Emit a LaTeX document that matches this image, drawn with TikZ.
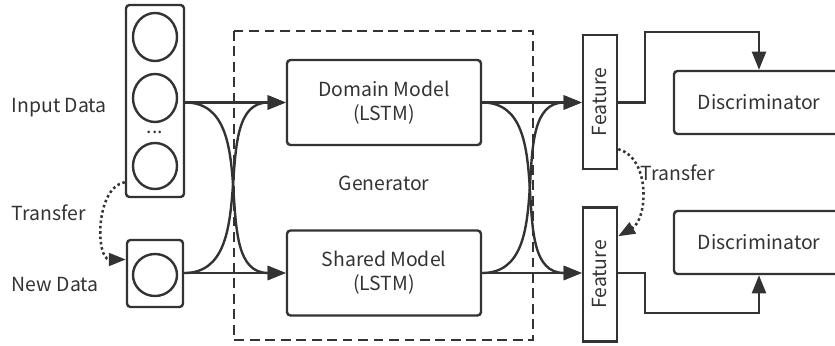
\documentclass[tikz,border=0pt]{standalone}
\usepackage{fontspec}
\usepackage{graphicx}
\setmainfont{Noto Sans CJK SC}
\usetikzlibrary{arrows.meta,shapes.geometric}
\definecolor{ink}{HTML}{333333}

\begin{document}
\begin{tikzpicture}[x=0.025cm,y=-0.025cm,
	every node/.style={text=ink,font=\fontsize{13.8}{17}\selectfont},
	line/.style={draw=ink,line width=1.7pt},
	arr/.style={line,-{Triangle[length=13pt,width=10pt]}},
	dotarr/.style={draw=ink,line width=1.8pt,dotted,-{Triangle[length=12pt,width=9pt]}},
	box/.style={line,rounded corners=2.5pt},
	unit/.style={line,ellipse,inner sep=0pt,minimum width=1.1cm,minimum height=1.2cm},
	model/.style={box,align=center,minimum width=4.85cm,minimum height=2.125cm},
	feat/.style={line,inner sep=0pt,minimum width=0.85cm,minimum height=3.35cm},
	disc/.style={box,minimum width=4.25cm,minimum height=1.575cm},
	gen/.style={draw=ink,line width=1.7pt,dash pattern=on 7pt off 4pt}]

	\useasboundingbox (0,0) rectangle (835,346);
	\clip (0,0) rectangle (835,346);

	% input data
	\node[box,minimum width=1.45cm,minimum height=4.8cm] (inbox) at (155,101) {};
	\node[unit] (u1) at (155,37) {};
	\node[unit] (u2) at (155,98) {};
	\node (udots) at (155,132) {...};
	\node[unit,minimum height=1.15cm] (u3) at (155,166) {};

	% new data
	\node[box,minimum width=1.4cm,minimum height=1.675cm] (newbox) at (155,273.5) {};
	\node[unit,minimum height=1.05cm] (u4) at (155,275) {};

	% labels
	\node[anchor=west] (inlabel) at (7,108) {Input Data};
	\node[anchor=west] (tleft) at (7,213) {Transfer};
	\node[anchor=west] (newlabel) at (7,285) {New Data};

	% generator
	\draw[gen] (234,31) rectangle (533,340);
	\node (genlabel) at (384,183) {Generator};
	\node[model] (dom) at (384,102.5) {Domain Model\\(LSTM)};
	\node[model] (shr) at (384,273) {Shared Model\\(LSTM)};

	% features
	\node[feat] (feat1) at (600,102) {\rotatebox{90}{Feature}};
	\node[feat] (feat2) at (600,274.5) {\rotatebox{90}{Feature}};

	% discriminators
	\node[disc] (disc1) at (759,102.5) {Discriminator};
	\node[disc] (disc2) at (759,242.5) {Discriminator};

	% data into generator
	\draw[arr] (inbox.east |- dom.west) -- (dom.west);
	\draw[arr] (inbox.east |- dom.west) .. controls +(80,0) and +(-80,0) .. (shr.west);
	\draw[arr] (newbox.east |- shr.west) -- (shr.west);
	\draw[arr] (newbox.east |- shr.west) .. controls +(80,0) and +(-80,0) .. (dom.west);

	% generator into features
	\draw[arr] (dom.east) -- (feat1.west |- dom.east);
	\draw[arr] (dom.east) .. controls +(80,0) and +(-80,0) .. (feat2.west |- shr.east);
	\draw[arr] (shr.east) -- (feat2.west |- shr.east);
	\draw[arr] (shr.east) .. controls +(80,0) and +(-80,0) .. (feat1.west |- dom.east);

	% features into discriminators
	\draw[arr] (feat1.east |- dom.east) -| (645,32) -| (disc1.north);
	\draw[arr] (feat2.east |- shr.east) -| (645,313) -| (disc2.south);

	% transfer
	\draw[dotarr] ([yshift=0.4cm]inbox.south west) to[out=190,in=180] ([yshift=0.35cm]newbox.west);
	\draw[dotarr] ([yshift=0.525cm]feat1.south east) to[out=-15,in=30] ([yshift=-0.75cm]feat2.north east);
	\node[anchor=west] (tright) at (636,173) {Transfer};

\end{tikzpicture}
\end{document}
